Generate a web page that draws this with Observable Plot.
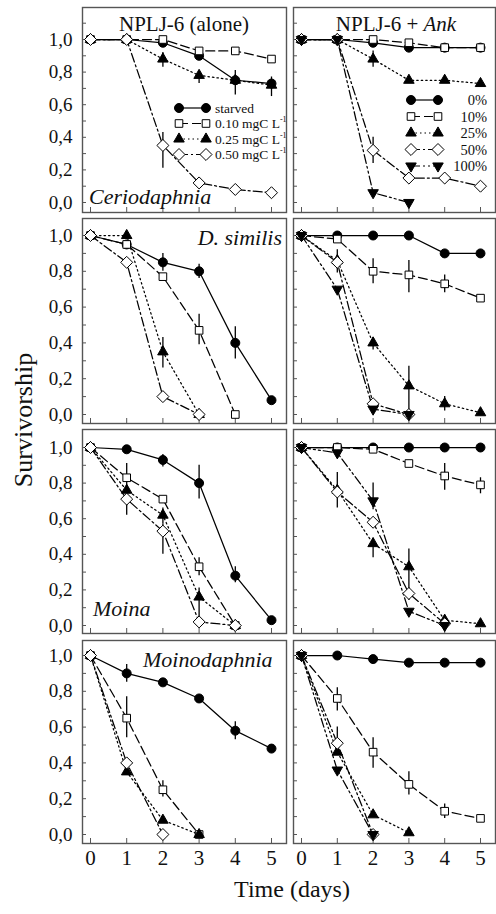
<!DOCTYPE html>
<html><head><meta charset="utf-8">
<script src="https://cdn.jsdelivr.net/npm/d3@7"></script>
<script src="https://cdn.jsdelivr.net/npm/@observablehq/plot@0.6"></script>
<style>
body{margin:0;background:#fff;}
#page{position:relative;width:496px;height:914px;background:#fff;overflow:hidden;font-family:'Liberation Serif',serif;}
#page svg{position:absolute;}
</style></head><body><div id="page"></div>
<script>
// ---------- data ----------
const days = [0, 1, 2, 3, 4, 5];
const seriesAlone = ["starved", "0.10 mgC L", "0.25 mgC L", "0.50 mgC L"];
const seriesAnk = ["0%", "10%", "25%", "50%", "100%"];
const yTickLabels = [0, 0.2, 0.4, 0.6, 0.8, 1.0];
const yMinorTicks = [0, 0.1, 0.2, 0.3, 0.4, 0.5, 0.6, 0.7, 0.8, 0.9, 1.0];
const yMinorTicksTop = [0, 0.1, 0.2, 0.3, 0.4, 0.5, 0.6, 0.7, 0.8, 0.9, 1.0, 1.1];
const panelTitles = ["NPLJ-6 (alone)", "NPLJ-6 + ", "Ank"];
const speciesNames = ["Ceriodaphnia", "D. similis", "Moina", "Moinodaphnia"];

// rows: series, columns: days 0..5 (null = no point)
const ceriodaphniaAlone = [
  [1.0, 1.0, 0.98, 0.90, 0.75, 0.73],
  [1.0, 1.0, 1.0, 0.93, 0.93, 0.88],
  [1.0, 1.0, 0.88, 0.78, 0.75, 0.72],
  [1.0, 1.0, 0.35, 0.12, 0.08, 0.06]
];
const ceriodaphniaAnk = [
  [1.0, 1.0, 0.98, 0.95, 0.95, 0.95],
  [1.0, 1.0, 1.0, 0.98, 0.95, 0.95],
  [1.0, 1.0, 0.88, 0.75, 0.75, 0.73],
  [1.0, 1.0, 0.32, 0.15, 0.15, 0.10],
  [1.0, 1.0, 0.06, 0.0, null, null]
];
const similisAlone = [
  [1.0, 0.95, 0.85, 0.80, 0.40, 0.08],
  [1.0, 0.95, 0.77, 0.47, 0.0, null],
  [1.0, 1.0, 0.35, 0.0, null, null],
  [1.0, 0.85, 0.10, 0.0, null, null]
];
const similisAnk = [
  [1.0, 1.0, 1.0, 1.0, 0.90, 0.90],
  [1.0, 0.98, 0.80, 0.78, 0.73, 0.65],
  [1.0, 0.86, 0.40, 0.16, 0.06, 0.01],
  [1.0, 0.85, 0.06, 0.0, null, null],
  [1.0, 0.70, 0.03, 0.0, null, null]
];
const moinaAlone = [
  [1.0, 0.99, 0.93, 0.80, 0.28, 0.03],
  [1.0, 0.83, 0.71, 0.33, 0.0, null],
  [1.0, 0.76, 0.62, 0.16, 0.0, null],
  [1.0, 0.71, 0.53, 0.02, 0.0, null]
];
const moinaAnk = [
  [1.0, 1.0, 1.0, 1.0, 1.0, 1.0],
  [1.0, 1.0, 0.99, 0.91, 0.84, 0.79],
  [1.0, 0.76, 0.46, 0.33, 0.03, 0.01],
  [1.0, 0.75, 0.58, 0.18, 0.01, null],
  [1.0, 0.97, 0.70, 0.08, 0.0, null]
];
const moinodaphniaAlone = [
  [1.0, 0.90, 0.85, 0.76, 0.58, 0.48],
  [1.0, 0.65, 0.25, 0.0, null, null],
  [1.0, 0.35, 0.08, 0.0, null, null],
  [1.0, 0.40, 0.0, null, null, null]
];
const moinodaphniaAnk = [
  [1.0, 1.0, 0.98, 0.96, 0.96, 0.96],
  [1.0, 0.76, 0.46, 0.28, 0.13, 0.09],
  [1.0, 0.46, 0.11, 0.01, null, null],
  [1.0, 0.51, 0.0, null, null, null],
  [1.0, 0.36, 0.0, null, null, null]
];

// error bars: [series, day, low, high]
const ceriodaphniaAloneErr = [[0,4,0.66,0.81],[0,5,0.65,0.77],[2,2,0.83,0.92],[2,3,0.73,0.80],[3,2,0.21,0.43]];
const ceriodaphniaAnkErr = [[2,2,0.83,0.93],[3,2,0.24,0.40]];
const similisAloneErr = [[0,2,0.80,0.90],[0,3,0.76,0.84],[0,4,0.31,0.49],[1,3,0.39,0.56],[2,2,0.26,0.43]];
const similisAnkErr = [[1,2,0.73,0.87],[1,3,0.68,0.86],[1,4,0.68,0.78],[2,1,0.79,0.92],[2,2,0.36,0.43],[2,3,0.0,0.27],[2,4,0.02,0.10]];
const moinaAloneErr = [[0,2,0.89,0.96],[0,3,0.71,0.90],[0,4,0.24,0.33],[1,1,0.77,0.91],[3,1,0.62,0.77],[2,2,0.57,0.66],[3,2,0.40,0.57],[2,3,0.04,0.21],[1,3,0.28,0.38]];
const moinaAnkErr = [[1,4,0.76,0.91],[1,5,0.74,0.83],[3,1,0.66,0.86],[4,2,0.65,0.80],[2,2,0.38,0.49],[2,3,0.19,0.43],[3,3,0.14,0.21]];
const moinodaphniaAloneErr = [[0,1,0.85,0.95],[0,4,0.53,0.63],[1,1,0.54,0.77],[1,2,0.21,0.30]];
const moinodaphniaAnkErr = [[1,1,0.69,0.82],[1,2,0.37,0.54],[1,3,0.22,0.35],[1,4,0.09,0.17],[3,1,0.46,0.60]];

// ---------- styles ----------
const FONT = "'Liberation Serif', 'Times New Roman', serif";
const INK = "#111";
const dashes = [null, "9,4", "1.5,3", "9,3,2,3", "9,3,2,3,2,3"];
const invTriangle = {
  draw(context, size) {
    const s3 = Math.sqrt(3);
    const y = Math.sqrt(size / (s3 * 3));
    context.moveTo(0, 2 * y);
    context.lineTo(s3 * y, -y);
    context.lineTo(-s3 * y, -y);
    context.closePath();
  }
};
const symbols = ["circle", "square", "triangle", "diamond2", invTriangle];
const d3symbols = [d3.symbolCircle, d3.symbolSquare, d3.symbolTriangle, d3.symbolDiamond2, invTriangle];
const radii = [4.5, 4.3, 3.9, 5.4, 3.9];
const fills = ["black", "white", "black", "white", "black"];

const cols = [
  {left: 0, width: 290, mL: 82, mR: 4, range: [90, 271], frameW: 204},
  {left: 290, width: 206, mL: 3, mR: 1, range: [11, 190], frameW: 202}
];
const rows = [
  {top: 0, h: 214, mT: 7, mB: 2, range: [202, 39], frameH: 205, minor: yMinorTicksTop},
  {top: 211, h: 214, mT: 7, mB: 2, range: [203, 24], frameH: 205, minor: yMinorTicks},
  {top: 422, h: 213, mT: 7, mB: 2, range: [203, 25], frameH: 204, minor: yMinorTicks},
  {top: 633, h: 250, mT: 7, mB: 40, range: [201, 22], frameH: 203, minor: yMinorTicks}
];

const page = document.getElementById("page");

function panel(values, errors, names, row, col) {
  const R = rows[row], C = cols[col];
  const data = [];
  values.forEach((vals, s) => vals.forEach((v, i) => { if (v != null) data.push({s, name: names[s], day: days[i], v}); }));
  const errs = errors.map(([s, d, lo, hi]) => ({s, day: d, lo, hi}));
  const marks = [
    Plot.frame({stroke: "#555", strokeWidth: 1.4}),
    Plot.ruleY(R.minor, {y: d => d, insetRight: C.frameW - 4, stroke: "#555", strokeWidth: 1}),
    Plot.ruleX(days, {x: d => d, insetTop: R.frameH - 5, stroke: "#555", strokeWidth: 1})
  ];
  names.forEach((n, s) => marks.push(Plot.line(data.filter(d => d.s === s), {
    x: "day", y: "v", stroke: "black", strokeWidth: 1.25, strokeDasharray: dashes[s]
  })));
  marks.push(Plot.ruleX(errs, {x: "day", y1: "lo", y2: "hi", stroke: "black", strokeWidth: 1.3}));
  names.forEach((n, s) => marks.push(Plot.dot(data.filter(d => d.s === s), {
    x: "day", y: "v", symbol: symbols[s], r: radii[s], fill: fills[s], stroke: "black", strokeWidth: 1
  })));
  if (col === 0) {
    marks.push(Plot.axisY(yTickLabels, {
      tickSize: 0, tickPadding: 10, fontSize: 19, fill: INK,
      tickFormat: d => d.toFixed(1).replace(".", ","), label: null
    }));
  }
  if (row === 3) {
    marks.push(Plot.axisX(days, {anchor: "bottom", tickSize: 0, tickPadding: 7, fontSize: 21, fill: INK, label: null}));
  }
  const svg = Plot.plot({
    width: C.width, height: R.h,
    marginLeft: C.mL, marginRight: C.mR, marginTop: R.mT, marginBottom: R.mB,
    x: {domain: [0, 5], range: C.range, axis: row === 3 ? undefined : null},
    y: {domain: [0, 1], range: R.range, axis: col === 0 ? undefined : null},
    style: {background: "transparent", fontFamily: FONT, color: INK, overflow: "visible"},
    marks
  });
  svg.style.left = C.left + "px";
  svg.style.top = R.top + "px";
  page.appendChild(svg);
}

panel(ceriodaphniaAlone, ceriodaphniaAloneErr, seriesAlone, 0, 0);
panel(ceriodaphniaAnk, ceriodaphniaAnkErr, seriesAnk, 0, 1);
panel(similisAlone, similisAloneErr, seriesAlone, 1, 0);
panel(similisAnk, similisAnkErr, seriesAnk, 1, 1);
panel(moinaAlone, moinaAloneErr, seriesAlone, 2, 0);
panel(moinaAnk, moinaAnkErr, seriesAnk, 2, 1);
panel(moinodaphniaAlone, moinodaphniaAloneErr, seriesAlone, 3, 0);
panel(moinodaphniaAnk, moinodaphniaAnkErr, seriesAnk, 3, 1);

// ---------- annotations overlay ----------
const ov = d3.select(page).append("svg")
  .attr("width", 496).attr("height", 914)
  .style("left", "0px").style("top", "0px")
  .style("pointer-events", "none")
  .style("font-family", FONT).attr("fill", INK);

ov.append("text").attr("x", 184).attr("y", 31).attr("text-anchor", "middle").attr("font-size", 21).text(panelTitles[0]);
const t2 = ov.append("text").attr("x", 396).attr("y", 31).attr("text-anchor", "middle").attr("font-size", 21);
t2.append("tspan").text(panelTitles[1]);
t2.append("tspan").attr("font-style", "italic").text(panelTitles[2]);

ov.append("text").attr("x", 89).attr("y", 204).attr("font-size", 22).attr("font-style", "italic").text(speciesNames[0]);
ov.append("text").attr("x", 282).attr("y", 245).attr("text-anchor", "end").attr("font-size", 22).attr("font-style", "italic").text(speciesNames[1]);
ov.append("text").attr("x", 93).attr("y", 616).attr("font-size", 22).attr("font-style", "italic").text(speciesNames[2]);
ov.append("text").attr("x", 143).attr("y", 667).attr("font-size", 22).attr("font-style", "italic").text(speciesNames[3]);

ov.append("text").attr("transform", "translate(32,420) rotate(-90)").attr("text-anchor", "middle").attr("font-size", 26).text("Survivorship");
ov.append("text").attr("x", 292).attr("y", 897).attr("text-anchor", "middle").attr("font-size", 24).text("Time (days)");

function legendRow(g, s, x1, x2, y) {
  g.append("line").attr("x1", x1).attr("x2", x2).attr("y1", y).attr("y2", y)
    .attr("stroke", "black").attr("stroke-width", 1.2).attr("stroke-dasharray", dashes[s]);
  [x1, x2].forEach(x => g.append("path")
    .attr("d", d3.symbol().type(d3symbols[s]).size(Math.PI * radii[s] * radii[s])())
    .attr("transform", `translate(${x},${y})`)
    .attr("fill", fills[s]).attr("stroke", "black").attr("stroke-width", 1));
}
const lg1 = ov.append("g");
const lg1y = [108, 123.5, 139, 154.5];
seriesAlone.forEach((name, s) => {
  legendRow(lg1, s, 179, 206, lg1y[s]);
  const t = lg1.append("text").attr("x", 215).attr("y", lg1y[s] + 4.5).attr("font-size", 13.5);
  t.append("tspan").text(name);
  if (s > 0) t.append("tspan").attr("font-size", 8).attr("dy", -6).text("-1");
});
const lg2 = ov.append("g");
const lg2y = [100, 116.5, 133, 149.5, 166];
seriesAnk.forEach((name, s) => {
  legendRow(lg2, s, 411, 438, lg2y[s]);
  lg2.append("text").attr("x", 487).attr("y", lg2y[s] + 5).attr("text-anchor", "end").attr("font-size", 14.5).text(name);
});
</script>
</body></html>
